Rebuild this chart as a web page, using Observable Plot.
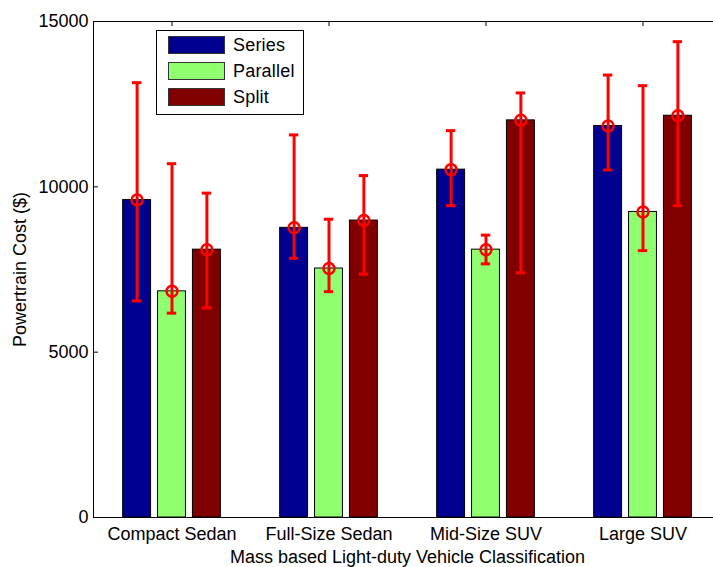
<!DOCTYPE html>
<html><head><meta charset="utf-8">
<script src="https://cdn.jsdelivr.net/npm/d3@7"></script>
<script src="https://cdn.jsdelivr.net/npm/@observablehq/plot@0.6"></script>
<style>
body{margin:0;background:#fff;}
#wrap{position:relative;width:713px;height:567px;overflow:hidden;font-family:"Liberation Sans",Arial,sans-serif;}
#legend{position:absolute;left:156px;top:30px;width:148px;height:85px;border:1px solid #000;background:#fff;box-sizing:border-box;}
.item{position:absolute;left:11px;height:18px;display:flex;align-items:center;}
.sw{width:57px;height:18px;box-sizing:border-box;border:1px solid #333;}
.lab{margin-left:8px;font-size:18px;color:#000;letter-spacing:0.2px;}
</style></head>
<body><div id="wrap"></div>
<script>
const categories = ["Compact Sedan","Full-Size Sedan","Mid-Size SUV","Large SUV"];
const seriesNames = ["Series","Parallel","Split"];
const seriesCost   = [9600, 8760, 10520, 11840];
const seriesLow    = [6550, 7840, 9430, 10510];
const seriesHigh   = [13150, 11570, 11700, 13380];
const parallelCost = [6840, 7530, 8100, 9240];
const parallelLow  = [6180, 6830, 7670, 8070];
const parallelHigh = [10700, 9020, 8540, 13060];
const splitCost    = [8100, 8980, 12010, 12150];
const splitLow     = [6340, 7360, 7400, 9430];
const splitHigh    = [9810, 10340, 12840, 14390];
const yTicks = [0, 5000, 10000, 15000];
const colors = ["#000090", "#90FF70", "#800000"];

const costs = [seriesCost, parallelCost, splitCost];
const lows = [seriesLow, parallelLow, splitLow];
const highs = [seriesHigh, parallelHigh, splitHigh];

// MATLAB grouped bar geometry
const groupWidth = Math.min(0.8, 3 / (3 + 1.5));
const step = groupWidth / 3;
const barW = step * 0.8;
const capHalf = 0.03;

const rows = [];
seriesNames.forEach((s, si) => {
  categories.forEach((c, ci) => {
    const xc = ci + 1 + (si - 1) * step;
    rows.push({series: s, cat: c, xc, x1: xc - barW / 2, x2: xc + barW / 2,
      v: costs[si][ci], lo: lows[si][ci], hi: highs[si][ci]});
  });
});

const W = 713, H = 567, mL = 93, mT = 21, mB = 50;
const pxPerUnit = 157;
const xMax = 0.5 + (W - mL) / pxPerUnit;
const tickLenX = 5 / pxPerUnit;                 // 5px in x units
const tickLenY = 5 * 15000 / (H - mT - mB);     // 5px in y units
const catPos = categories.map((c, i) => i + 1);

const chart = Plot.plot({
  width: W, height: H,
  marginLeft: mL, marginRight: 0, marginTop: mT, marginBottom: mB,
  style: {fontFamily: "'Liberation Sans', Arial, sans-serif", fontSize: "18px", color: "#000", background: "#fff"},
  x: {type: "linear", domain: [0.5, xMax], axis: null},
  y: {type: "linear", domain: [0, 15000], axis: null},
  color: {domain: seriesNames, range: colors},
  marks: [
    Plot.ruleX(catPos, {x: d => d, y1: 0, y2: tickLenY, stroke: "#000"}),
    Plot.rectY(rows, {x1: "x1", x2: "x2", y1: 0, y2: "v", fill: "series", stroke: "#000", strokeWidth: 1}),
    Plot.ruleX(rows, {x: "xc", y1: "lo", y2: "hi", stroke: "#ff0000", strokeWidth: 3}),
    Plot.ruleY(rows, {y: "hi", x1: d => d.xc - capHalf, x2: d => d.xc + capHalf, stroke: "#ff0000", strokeWidth: 3}),
    Plot.ruleY(rows, {y: "lo", x1: d => d.xc - capHalf, x2: d => d.xc + capHalf, stroke: "#ff0000", strokeWidth: 3}),
    Plot.dot(rows, {x: "xc", y: "v", r: 5.5, stroke: "#ff0000", strokeWidth: 2.5, fill: "none"}),
    // frame: left, top, bottom
    Plot.ruleX([0.5], {x: d => d, y1: 0, y2: 15000, stroke: "#000", strokeWidth: 1}),
    Plot.ruleY([0, 15000], {y: d => d, x1: 0.5, x2: xMax, stroke: "#000", strokeWidth: 1}),
    // y ticks (inward) and labels
    Plot.ruleY(yTicks, {y: d => d, x1: 0.5, x2: 0.5 + tickLenX, stroke: "#000"}),
    Plot.text(yTicks, {y: d => d, x: 0.5, text: d => String(d), textAnchor: "end", dx: -5, fontSize: 18}),
    // x ticks at top (inward) and category labels at bottom
    Plot.ruleX(catPos, {x: d => d, y1: 15000, y2: 15000 - tickLenY, stroke: "#000"}),
    Plot.text(categories, {x: (d, i) => i + 1, y: 0, text: d => d, dy: 10, lineAnchor: "top", fontSize: 18, letterSpacing: "0.3px"}),
    // axis labels
    Plot.text(["Mass based Light-duty Vehicle Classification"], {x: 2.5, y: 0, dy: 33, lineAnchor: "top", text: d => d, fontSize: 18, letterSpacing: "0.45px"}),
    Plot.text(["Powertrain Cost ($)"], {x: 0.5, y: 7500, dx: -73, rotate: -90, text: d => d, fontSize: 18, letterSpacing: "0.3px"})
  ]
});
document.getElementById("wrap").appendChild(chart);

// legend overlay
const leg = document.createElement("div");
leg.id = "legend";
seriesNames.forEach((s, i) => {
  const it = document.createElement("div");
  it.className = "item";
  it.style.top = (5 + i * 26) + "px";
  const sw = document.createElement("div");
  sw.className = "sw"; sw.style.background = colors[i];
  const lb = document.createElement("span");
  lb.className = "lab"; lb.textContent = s;
  it.appendChild(sw); it.appendChild(lb);
  leg.appendChild(it);
});
document.getElementById("wrap").appendChild(leg);
</script></body></html>
